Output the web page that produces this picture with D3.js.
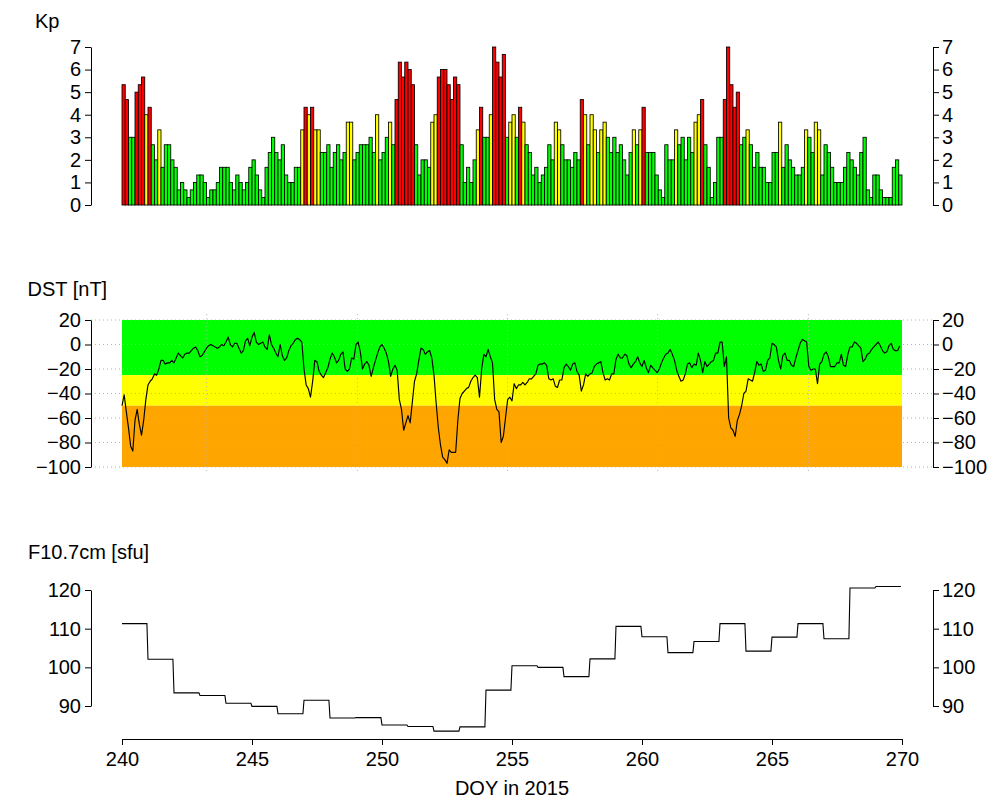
<!DOCTYPE html>
<html>
<head>
<meta charset="utf-8">
<script src="https://cdn.jsdelivr.net/npm/d3@7"></script>
<style>
  html, body { margin: 0; padding: 0; background: #fff; }
  svg { display: block; font-family: "Liberation Sans", Arial, Helvetica, sans-serif; }
</style>
</head>
<body>
<svg id="chart" width="987" height="798"></svg>
<script>
// Planetary Kp index, 3-hourly, starting at DOY 240.0 of 2015
const kpValues = [
  5.33,4.67,3,3,5,5.33,5.67,4,4.33,2.67,
  2,3.33,1.67,2.67,2.67,2,1.67,0.67,1,0.67,
  0.33,0.67,1,1.33,1.33,1,0.33,0.67,0.67,1,
  1.67,1.67,1.67,1,0.67,1.33,1,0.67,1,1.67,
  2,1.33,0.67,0.33,1.67,2.33,3,2.33,2,2.67,
  1.33,1,1,1.67,1.67,3.33,4.33,4,4.33,3.33,
  3.33,2.33,2.33,2.67,1.67,2.33,2.67,2,2.33,3.67,
  3.67,2,2.33,2.67,2.67,2.67,3,2.33,4,2,
  2.33,3,3.67,2.67,4.67,6.33,5.67,6.33,6,5.33,
  2.67,1.33,2,2,1.67,3.67,4,5.67,6,6,
  5.33,4.67,5.67,5.33,2.67,1,1.67,1,2,3.33,
  4.33,3,3,4,7,6.33,5.67,6.67,3,3.67,
  4,3,4.33,3.67,2.67,2.33,1.33,1.67,1,1.33,
  1.67,2.67,2,3.67,3.33,2.67,2,2,1.67,2.33,
  2,4.67,4,2.67,4,3.33,2.33,3.33,3.67,3,
  2.33,3,2.33,2.67,2,1.33,2.33,3.33,2.67,3.33,
  4.33,2.33,2.33,2.33,1.33,0.67,0.33,2.67,2,2,
  3.33,2.67,3,2,3,2.33,3.67,4,4.67,2.67,
  1.67,0.33,1,3,3,4.67,7,5.33,4.33,5,
  2.67,3,3.33,2.67,1.67,2.33,1.67,1.67,1,1,
  2.33,2.33,3.67,1.67,2.67,2,1.67,1.33,1.33,1.67,
  3.33,3,2.33,3.67,3.33,1.33,2.67,2.33,1.67,1,
  1,1,1.67,2.33,2,1.67,1.33,2.33,3,0.67,
  0.33,1.33,1.33,0.67,0.33,0.33,0.33,1.67,2,1.33
];
const kpStartDoy = 240;
const kpStepHours = 3;
const kpTicks = [0, 1, 2, 3, 4, 5, 6, 7];

// Dst index [nT], every 2 hours from DOY 240.0
const dstValues = [
  -50,-41,-55,-68,-83,-87,-62,-53,-65,-74,
  -62,-45,-33,-30,-28,-24,-25,-20,-13,-13,
  -16,-15,-15,-13,-15,-11,-7,-9,-11,-8,
  -7,-7,-5,-3,-2,-5,-10,-9,-6,-3,
  -1,0,-1,-2,-3,-2,0,-1,2,6,
  0,-2,1,1,-3,-7,-5,3,5,-1,
  6,10,2,0,1,2,-2,-4,8,0,
  -3,-7,-10,0,-9,-13,-11,-5,-1,1,
  4,5,4,2,-20,-33,-36,-43,-30,-13,
  -14,-22,-25,-27,-23,-19,-12,-7,-10,-15,
  -13,-8,-6,-20,-22,-20,-11,-12,0,2,
  -6,-20,-16,-14,-17,-26,-19,-13,-7,-2,
  0,-3,-7,-14,-26,-20,-17,-21,-45,-53,
  -70,-64,-58,-64,-47,-30,-24,-13,-3,-4,
  -8,-6,-5,-11,-25,-48,-68,-82,-92,-94,
  -97,-86,-88,-88,-88,-62,-44,-40,-38,-36,
  -35,-30,-27,-25,-27,-43,-20,-8,-10,-4,
  -10,-15,-45,-53,-55,-80,-75,-60,-45,-43,
  -46,-32,-36,-33,-33,-31,-33,-31,-28,-28,
  -26,-24,-17,-16,-16,-15,-17,-28,-29,-28,
  -34,-35,-29,-29,-19,-16,-18,-21,-16,-15,
  -22,-25,-38,-33,-24,-26,-24,-23,-18,-16,
  -15,-14,-23,-29,-28,-29,-24,-24,-12,-8,
  -11,-11,-8,-9,-16,-19,-16,-14,-10,-15,
  -18,-13,-19,-23,-17,-19,-21,-23,-20,-15,
  -11,-8,-7,-4,-8,-13,-21,-26,-30,-29,
  -24,-16,-15,-19,-16,-17,-7,-13,-23,-14,
  -18,-16,-14,-13,-7,-7,2,2,-18,-10,
  -60,-68,-70,-75,-62,-57,-50,-40,-38,-28,
  -29,-30,-23,-14,-17,-16,-22,-21,-13,-11,
  1,0,-2,-13,-20,-9,-7,-13,-13,-17,
  -18,-11,-5,1,4,3,2,-18,-21,-20,
  -20,-32,-16,-14,-8,-6,-10,-18,-18,-18,
  -15,-15,-8,-17,-18,-8,-2,-2,2,1,
  -1,-3,-14,-12,-8,-7,-4,-2,0,2,
  -1,-5,-7,-6,-1,1,-4,-5,-5,-1
];
const dstStepHours = 2;
const dstTicks = [20, 0, -20, -40, -60, -80, -100];
// storm-level bands behind the Dst curve
const dstBandLimits = [[-25, 20], [-50, -25], [-100, -50]];
const dstBandColors = ["#00ff00", "#ffff00", "#ffa500"];
// dotted time grid in the Dst panel (DOY)
const dstGridDays = [243.26, 249.05, 254.83, 260.6, 266.4];

// F10.7 cm solar flux [sfu], daily, DOY 240..269
const f107Days = d3.range(240, 270);
const f107Values = [
  111.3,102.1,93.4,92.7,90.7,89.9,88.0,91.5,86.9,87.0,
  85.1,84.7,83.5,84.6,94.1,100.4,100.0,97.6,102.2,110.6,
  107.9,103.8,106.7,111.3,104.2,107.8,111.3,107.4,120.5,120.9
];
const f107Ticks = [90, 100, 110, 120];

const doyTicks = [240, 245, 250, 255, 260, 265, 270];

const svg = d3.select("#chart");
const FONT = 20;
const frameLeft = 91, frameRight = 933;

const x = d3.scaleLinear().domain([240, 270]).range([122, 902]);
const yKp = d3.scaleLinear().domain([0, 7]).range([205, 47]);
const yDst = d3.scaleLinear().domain([-100, 20]).range([467, 320]);
const yF = d3.scaleLinear().domain([90, 120]).range([706, 590]);

function kpColor(v) {
  if (v >= 4.2) return "#ff0000";
  if (v >= 3.2) return "#ffff00";
  return "#00ff00";
}

function styleAxis(g) {
  g.attr("font-size", FONT).attr("font-family", "Liberation Sans, Arial, sans-serif");
  g.selectAll("path.domain").attr("stroke", "#000").attr("stroke-width", 1);
  g.selectAll(".tick line").attr("stroke", "#000").attr("stroke-width", 1);
  g.selectAll(".tick text").attr("fill", "#000");
}

function yAxes(scale, ticks) {
  const fmt = d3.format("");
  svg.append("g")
    .attr("transform", `translate(${frameLeft},0)`)
    .call(d3.axisLeft(scale).tickValues(ticks).tickFormat(d => fmt(d)).tickSize(6).tickSizeOuter(0).tickPadding(4))
    .call(styleAxis);
  svg.append("g")
    .attr("transform", `translate(${frameRight},0)`)
    .call(d3.axisRight(scale).tickValues(ticks).tickFormat(d => fmt(d)).tickSize(6).tickSizeOuter(0).tickPadding(3))
    .call(styleAxis);
}

function title(text, tx, ty) {
  svg.append("text").attr("x", tx).attr("y", ty)
    .attr("font-size", FONT).attr("fill", "#000").text(text);
}

// ---- Kp panel ----
const kpData = kpValues.map((v, i) => ({
  t0: kpStartDoy + i * kpStepHours / 24,
  t1: kpStartDoy + (i + 1) * kpStepHours / 24,
  v
}));
svg.append("g").selectAll("rect").data(kpData).join("rect")
  .attr("x", d => x(d.t0))
  .attr("width", d => x(d.t1) - x(d.t0))
  .attr("y", d => yKp(d.v))
  .attr("height", d => yKp(0) - yKp(d.v))
  .attr("fill", d => kpColor(d.v))
  .attr("stroke", "#000")
  .attr("stroke-width", 0.85);
yAxes(yKp, kpTicks);
title("Kp", 35, 27.5);

// ---- Dst panel ----
const bands = dstBandLimits.map((b, i) => ({ lo: b[0], hi: b[1], color: dstBandColors[i] }));
svg.append("g").selectAll("rect").data(bands).join("rect")
  .attr("x", x(240))
  .attr("width", x(270) - x(240))
  .attr("y", d => yDst(d.hi))
  .attr("height", d => yDst(d.lo) - yDst(d.hi))
  .attr("fill", d => d.color);

const dstTop = yDst(24.8), dstBottom = yDst(-104.8);
const grid = svg.append("g")
  .attr("stroke", "#b4b4b4").attr("stroke-width", 1).attr("stroke-dasharray", "1,3");
grid.selectAll("line.h").data(dstTicks).join("line").attr("class", "h")
  .attr("x1", frameLeft).attr("x2", frameRight)
  .attr("y1", d => yDst(d)).attr("y2", d => yDst(d));
grid.selectAll("line.v").data(dstGridDays).join("line").attr("class", "v")
  .attr("x1", d => x(d)).attr("x2", d => x(d))
  .attr("y1", dstTop).attr("y2", dstBottom);

const dstSeries = dstValues.map((v, i) => ({ t: 240 + i * dstStepHours / 24, v }));
svg.append("path").datum(dstSeries)
  .attr("fill", "none").attr("stroke", "#000").attr("stroke-width", 1.15)
  .attr("stroke-linejoin", "round")
  .attr("d", d3.line().x(d => x(d.t)).y(d => yDst(d.v)));
yAxes(yDst, dstTicks);
title("DST [nT]", 27.5, 296);

// ---- F10.7 panel ----
const fSeries = [];
f107Days.forEach((d, i) => {
  fSeries.push({ t: d, v: f107Values[i] });
  fSeries.push({ t: d + 23 / 24, v: f107Values[i] });
});
svg.append("path").datum(fSeries)
  .attr("fill", "none").attr("stroke", "#000").attr("stroke-width", 1.1)
  .attr("d", d3.line().x(d => x(d.t)).y(d => yF(d.v)));
yAxes(yF, f107Ticks);
title("F10.7cm [sfu]", 28, 559);

// bottom time axis
svg.append("g")
  .attr("transform", "translate(0,739)")
  .call(d3.axisBottom(x).tickValues(doyTicks).tickSize(6).tickSizeOuter(0).tickPadding(7))
  .call(styleAxis);
svg.append("text")
  .attr("x", x(255)).attr("y", 795)
  .attr("text-anchor", "middle").attr("font-size", FONT).attr("fill", "#000")
  .text("DOY in 2015");
</script>
</body>
</html>
